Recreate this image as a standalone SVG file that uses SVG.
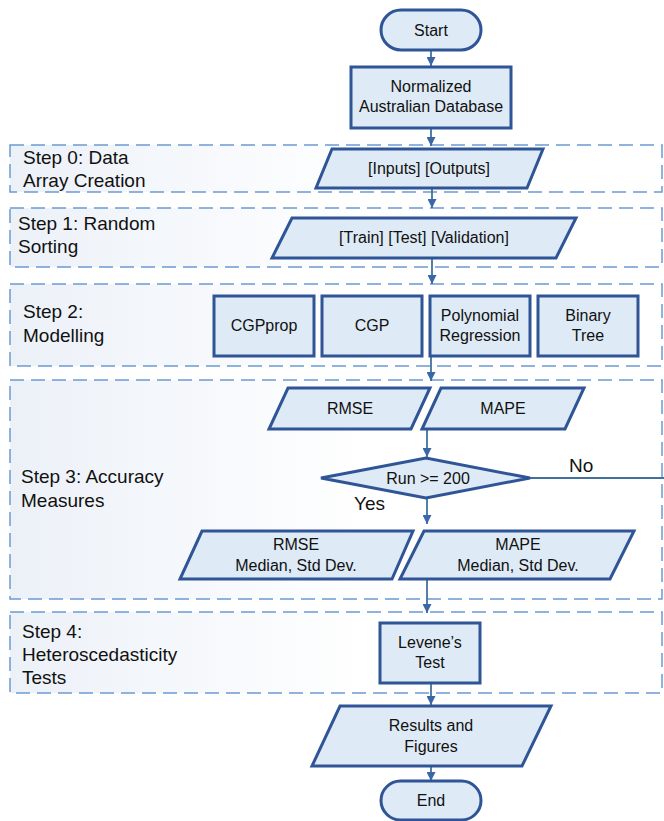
<svg xmlns="http://www.w3.org/2000/svg" width="664" height="821" viewBox="0 0 664 821">
  <defs>
    <linearGradient id="bandFill" x1="0" y1="0" x2="1" y2="0">
      <stop offset="0" stop-color="#ECF1F8"/>
      <stop offset="0.55" stop-color="#FFFFFF"/>
      <stop offset="1" stop-color="#FFFFFF"/>
    </linearGradient>
    <marker id="arrow" viewBox="0 0 10 10" refX="10" refY="5" markerWidth="9" markerHeight="9" markerUnits="userSpaceOnUse" orient="auto">
      <path d="M0,0 L10,5 L0,10 z" fill="#3A67A8"/>
    </marker>
  </defs>
  <style>
    .band { fill: url(#bandFill); stroke: #6C9BD2; stroke-width: 1.5; stroke-dasharray: 14 7; }
    .node { fill: #DEEAF6; stroke: #2F5597; stroke-width: 3; }
    .conn { fill: none; stroke: #41719C; stroke-width: 1.8; }
    .t { font-family: "Liberation Sans", Arial, sans-serif; font-size: 16px; fill: #111; text-anchor: middle; }
    .lab { font-family: "Liberation Sans", Arial, sans-serif; font-size: 19px; fill: #111; }
  </style>

  <!-- step bands -->
  <g id="step0">
    <rect class="band" x="10" y="145" width="652" height="47"/>
    <text class="lab" x="23" y="164">Step 0: Data</text>
    <text class="lab" x="23" y="187">Array Creation</text>
  </g>
  <g id="step1">
    <rect class="band" x="10" y="208" width="652" height="59"/>
    <text class="lab" x="18" y="230">Step 1: Random</text>
    <text class="lab" x="18" y="253">Sorting</text>
  </g>
  <g id="step2">
    <rect class="band" x="10" y="284" width="652" height="82"/>
    <text class="lab" x="23" y="318">Step 2:</text>
    <text class="lab" x="23" y="342">Modelling</text>
  </g>
  <g id="step3">
    <rect class="band" x="10" y="380" width="652" height="219"/>
    <text class="lab" x="21" y="483">Step 3: Accuracy</text>
    <text class="lab" x="21" y="507">Measures</text>
  </g>
  <g id="step4">
    <rect class="band" x="10" y="612" width="652" height="81"/>
    <text class="lab" x="22" y="638">Step 4:</text>
    <text class="lab" x="22" y="661">Heteroscedasticity</text>
    <text class="lab" x="22" y="684">Tests</text>
  </g>

  <!-- connectors -->
  <g id="connectors">
    <line class="conn" x1="431" y1="51" x2="431" y2="66" marker-end="url(#arrow)"/>
    <line class="conn" x1="431" y1="129" x2="431" y2="146" marker-end="url(#arrow)"/>
    <line class="conn" x1="432" y1="189" x2="432" y2="208" marker-end="url(#arrow)"/>
    <line class="conn" x1="432" y1="259" x2="432" y2="284" marker-end="url(#arrow)"/>
    <line class="conn" x1="431" y1="357" x2="431" y2="381" marker-end="url(#arrow)"/>
    <line class="conn" x1="427" y1="430" x2="427" y2="457" marker-end="url(#arrow)"/>
    <line class="conn" x1="530" y1="478" x2="664" y2="478"/>
    <line class="conn" x1="427" y1="498" x2="427" y2="524" marker-end="url(#arrow)"/>
    <line class="conn" x1="427" y1="580" x2="427" y2="613" marker-end="url(#arrow)"/>
    <line class="conn" x1="431" y1="684" x2="431" y2="705" marker-end="url(#arrow)"/>
    <line class="conn" x1="431" y1="767" x2="431" y2="781" marker-end="url(#arrow)"/>
    <text class="lab" x="569" y="472">No</text>
    <text class="lab" x="354" y="510">Yes</text>
  </g>

  <!-- nodes -->
  <g id="start">
    <rect class="node" x="381" y="10" width="100" height="40" rx="20"/>
    <text class="t" x="431" y="35.5">Start</text>
  </g>
  <g id="database">
    <rect class="node" x="351" y="67" width="160" height="61"/>
    <text class="t" x="431" y="92">Normalized</text>
    <text class="t" x="431" y="112">Australian Database</text>
  </g>
  <g id="inputs-outputs">
    <polygon class="node" points="332,149 543,149 527,188 316,188"/>
    <text class="t" x="429" y="174">[Inputs] [Outputs]</text>
  </g>
  <g id="train-test-validation">
    <polygon class="node" points="292,218 576,218 556,258 272,258"/>
    <text class="t" x="424" y="243">[Train] [Test] [Validation]</text>
  </g>
  <g id="cgpprop">
    <rect class="node" x="214" y="296" width="100" height="60"/>
    <text class="t" x="264" y="331">CGPprop</text>
  </g>
  <g id="cgp">
    <rect class="node" x="322" y="296" width="100" height="60"/>
    <text class="t" x="372" y="331">CGP</text>
  </g>
  <g id="polynomial-regression">
    <rect class="node" x="430" y="296" width="100" height="60"/>
    <text class="t" x="480" y="321">Polynomial</text>
    <text class="t" x="480" y="341">Regression</text>
  </g>
  <g id="binary-tree">
    <rect class="node" x="538" y="296" width="100" height="60"/>
    <text class="t" x="588" y="321">Binary</text>
    <text class="t" x="588" y="341">Tree</text>
  </g>
  <g id="rmse">
    <polygon class="node" points="288,388 430,388 411,429 269,429"/>
    <text class="t" x="350" y="414">RMSE</text>
  </g>
  <g id="mape">
    <polygon class="node" points="441,388 584,388 565,429 422,429"/>
    <text class="t" x="503" y="414">MAPE</text>
  </g>
  <g id="run-check">
    <polygon class="node" points="321,478 426,458 530,478 426,498"/>
    <text class="t" x="428" y="484">Run &gt;= 200</text>
  </g>
  <g id="rmse-stats">
    <polygon class="node" points="202,531 413,531 392,579 180,579"/>
    <text class="t" x="296" y="550">RMSE</text>
    <text class="t" x="296" y="571">Median, Std Dev.</text>
  </g>
  <g id="mape-stats">
    <polygon class="node" points="424,531 634,531 610,579 400,579"/>
    <text class="t" x="518" y="550">MAPE</text>
    <text class="t" x="518" y="571">Median, Std Dev.</text>
  </g>
  <g id="levene">
    <rect class="node" x="380" y="623" width="100" height="60"/>
    <text class="t" x="430" y="648">Levene’s</text>
    <text class="t" x="430" y="668">Test</text>
  </g>
  <g id="results">
    <polygon class="node" points="340,706 551,706 522,766 312,766"/>
    <text class="t" x="431" y="731">Results and</text>
    <text class="t" x="431" y="752">Figures</text>
  </g>
  <g id="end">
    <rect class="node" x="381" y="781" width="100" height="39" rx="19.5"/>
    <text class="t" x="431" y="806">End</text>
  </g>
</svg>
